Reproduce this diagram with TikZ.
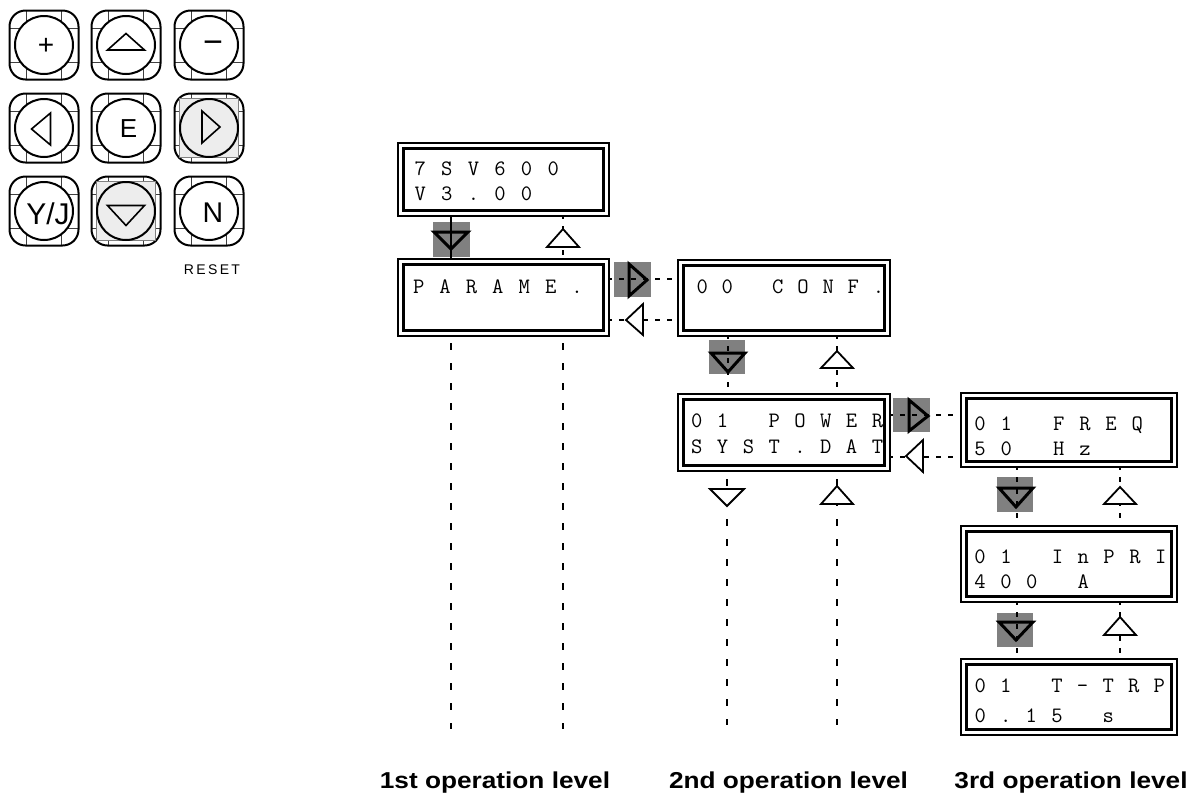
\documentclass[tikz,border=0pt]{standalone}
\usepackage{fontspec}
\usepackage{graphicx}
\setmainfont{Liberation Sans}
\usetikzlibrary{backgrounds}

\makeatletter
\newcommand\dstr[2]{\def\dpitch{#1}\dstr@#2\@nil}
\def\dstr@#1{\ifx#1\@nil\else\hbox to \dpitch pt{\hss\ifx#1*\else#1\fi\hss}\expandafter\dstr@\fi}
\makeatother

\tikzset{
  disp/.style={draw, line width=2.3pt, double=white, double distance=3pt, fill=white, inner sep=0pt},
  dtext/.style={anchor=base west, inner sep=0pt, font=\fontsize{22}{22}\selectfont\ttfamily},
  conn/.style={line width=2.4pt, dash pattern=on 5pt off 7pt},
  longconn/.style={line width=2.6pt, dash pattern=on 7pt off 13pt},
  solidconn/.style={line width=2.6pt},
  actsq/.style={fill=black!50, draw=none},
  acttri/.style={draw, line width=3pt, line join=miter},
  opentri/.style={draw, fill=white, line width=1.8pt, line join=miter},
  lvl/.style={font=\fontsize{23}{23}\selectfont\bfseries, anchor=base, inner sep=0pt},
  keytxt/.style={inner sep=0pt},
  keygrid/.style={line width=0.9pt, black!75},
  keyframe/.style={line width=2pt, rounded corners=16pt},
  keycirc/.style={line width=2pt, fill=white},
  keyshade/.style={fill=black!7, draw=black!50, line width=0.8pt},
  keytri/.style={line width=1.6pt, line join=miter},
}

\newcommand\kpkey[2]{%
  \draw[keygrid] (#1-17.5,#2-34.5) -- (#1-17.5,#2+34.5) (#1+17.5,#2-34.5) -- (#1+17.5,#2+34.5)
                 (#1-34.5,#2-16.5) -- (#1+34.5,#2-16.5) (#1-34.5,#2+17.5) -- (#1+34.5,#2+17.5);
  \draw[keyframe] (#1-34.5,#2-34.5) rectangle (#1+34.5,#2+34.5);
}

\begin{document}
\begin{tikzpicture}[x=1pt,y=-1pt]
\useasboundingbox (0,0) rectangle (1199,796);

% ---------------- keypad ----------------
\kpkey{44}{45}\kpkey{126}{45}\kpkey{209}{45}
\kpkey{44}{128}\kpkey{126}{128}\kpkey{209}{128}
\kpkey{44}{211}\kpkey{126}{211}\kpkey{209}{211}
\draw[keyshade] (179.5,98.5) rectangle (238.5,157.5);
\draw[keyshade] (96.5,181.5) rectangle (155.5,240.5);
\foreach \x/\y in {44/45,126/45,209/45,44/128,126/128,44/211,209/211}
  \draw[keycirc] (\x,\y) circle[radius=29pt];
\draw[keycirc, fill=black!7] (209,128) circle[radius=29pt];
\draw[keycirc, fill=black!7] (126,211) circle[radius=29pt];

\node[keytxt, font=\fontsize{28}{28}\selectfont] (kplus) at (46,46.5) {+};
\draw[keytri] (126,33.5) -- (144.5,50) -- (107.5,50) -- cycle;
\node[keytxt, font=\fontsize{34}{34}\selectfont] (kminus) at (213,47.5) {−};
\draw[keytri] (31.5,129) -- (50.5,113) -- (50.5,145) -- cycle;
\node[keytxt, anchor=base, font=\fontsize{26}{26}\selectfont] (ke) at (128.5,137.5) {E};
\draw[keytri] (220,127) -- (202,111) -- (202,143) -- cycle;
\node[keytxt, anchor=base, font=\fontsize{30}{30}\selectfont] (kyj) at (48,224.5) {Y/J};
\draw[keytri] (126,225.5) -- (107.5,205.5) -- (144.5,205.5) -- cycle;
\node[keytxt, anchor=base, font=\fontsize{28.5}{28.5}\selectfont] (kn) at (213,222.8) {N};
\node[keytxt, font=\fontsize{14}{14}\selectfont] (reset) at (212,270) {R\,E\,S\,E\,T};

% ---------------- displays ----------------
\node[disp, minimum width=205.4pt, minimum height=67.4pt] (d1) at (503.5,179.5) {};
\node[disp, minimum width=205.4pt, minimum height=71.4pt] (d2) at (503.5,297.5) {};
\node[disp, minimum width=206.4pt, minimum height=70.4pt] (d3) at (784,298) {};
\node[disp, minimum width=206.4pt, minimum height=71.4pt] (d4) at (784,432.5) {};
\node[disp, minimum width=210.4pt, minimum height=68.4pt] (d5) at (1069,430) {};
\node[disp, minimum width=210.4pt, minimum height=70.4pt] (d6) at (1069,564) {};
\node[disp, minimum width=210.4pt, minimum height=70.4pt] (d7) at (1069,697) {};

\node[dtext] (t1a) at (413.4,175) {\dstr{13.3}{7*S*V*6*0*0}};
\node[dtext] (t1b) at (413.4,200) {\dstr{13.3}{V*3*.*0*0}};
\node[dtext] (t2a) at (411.9,293) {\dstr{13.2}{P*A*R*A*M*E*.}};
\node[dtext] (t3a) at (695.7,293) {\dstr{12.6}{0*0***C*O*N*F*.}};
\node[dtext] (t4a) at (690.2,427) {\dstr{12.9}{0*1***P*O*W*E*R}};
\node[dtext] (t4b) at (690.2,453) {\dstr{12.9}{S*Y*S*T*.*D*A*T}};
\node[dtext] (t5a) at (973.4,430) {\dstr{13.1}{0*1***F*R*E*Q}};
\node[dtext] (t5b) at (973.4,455) {\dstr{13.1}{5*0***H*z}};
\node[dtext] (t6a) at (973.5,563) {\dstr{12.9}{0*1***I*n*P*R*I}};
\node[dtext] (t6b) at (973.5,588) {\dstr{12.9}{4*0*0***A}};
\node[dtext] (t7a) at (973.6,692) {\dstr{12.8}{0*1***T*-*T*R*P}};
\node[dtext] (t7b) at (973.6,722) {\dstr{12.8}{0*.*1*5***s}};

% column / row helpers
\coordinate (cA) at (451,0);
\coordinate (cB) at (563,0);
\coordinate (cC) at (728,0);
\coordinate (cD) at (837,0);
\coordinate (cE) at (1017,0);
\coordinate (cF) at (1120,0);
\coordinate (rA) at (0,279);
\coordinate (rB) at (0,320);
\coordinate (rC) at (0,415);
\coordinate (rD) at (0,457);
\coordinate (eA) at (451,729);
\coordinate (eB) at (563,729);
\coordinate (eC) at (727,725);
\coordinate (eD) at (837,725);

% ---------------- connectors ----------------
\begin{scope}[on background layer]
  % active squares
  \fill[actsq] (433,222) rectangle (470,257);
  \fill[actsq] (614,262) rectangle (651,297);
  \fill[actsq] (709,340) rectangle (745,374);
  \fill[actsq] (893,398) rectangle (930,432);
  \fill[actsq] (997,477) rectangle (1033,512);
  \fill[actsq] (997,613) rectangle (1033,647);

  % level 1 -> 2
  \draw[solidconn] (d1.south -| cA) -- (d2.north -| cA);
  \draw[conn] (d1.south -| cB) -- (d2.north -| cB);
  \draw[longconn, dash phase=11.2pt] (d2.south -| cA) -- (eA);
  \draw[longconn, dash phase=11.2pt] (d2.south -| cB) -- (eB);
  % level 1 <-> 2 horizontal
  \draw[conn] (d2.east |- rA) -- (d3.west |- rA);
  \draw[conn] (d2.east |- rB) -- (d3.west |- rB);
  % 00 CONF -> 01 POWER
  \draw[conn] (d3.south -| cC) -- (d4.north -| cC);
  \draw[conn] (d3.south -| cD) -- (d4.north -| cD);
  \draw[longconn, dash phase=10.2pt] (d4.south -| eC) -- (eC);
  \draw[longconn, dash phase=10.2pt] (d4.south -| eD) -- (eD);
  % level 2 <-> 3 horizontal
  \draw[conn] (d4.east |- rC) -- (d5.west |- rC);
  \draw[conn] (d4.east |- rD) -- (d5.west |- rD);
  % level 3 vertical
  \draw[conn] (d5.south -| cE) -- (d6.north -| cE);
  \draw[conn] (d5.south -| cF) -- (d6.north -| cF);
  \draw[conn] (d6.south -| cE) -- (d7.north -| cE);
  \draw[conn] (d6.south -| cF) -- (d7.north -| cF);

  % active triangles
  \draw[acttri] (434,232) -- (468,232) -- (451,249) -- cycle;
  \draw[acttri] (629,264) -- (629,296) -- (647,280) -- cycle;
  \draw[acttri] (711,353) -- (745,353) -- (728,372) -- cycle;
  \draw[acttri] (909,400) -- (909,431) -- (928,416) -- cycle;
  \draw[acttri] (999,488) -- (1033,488) -- (1016,507) -- cycle;
  \draw[acttri] (999,622) -- (1033,622) -- (1016,640) -- cycle;

  % open triangles
  \draw[opentri] (563,229) -- (579,247) -- (547,247) -- cycle;
  \draw[opentri] (626,320) -- (643,304) -- (643,335) -- cycle;
  \draw[opentri] (837,351) -- (853,368) -- (821,368) -- cycle;
  \draw[opentri] (727,506) -- (710,489) -- (744,489) -- cycle;
  \draw[opentri] (837,486) -- (853,504) -- (821,504) -- cycle;
  \draw[opentri] (906,456) -- (923,440) -- (923,472) -- cycle;
  \draw[opentri] (1120,487) -- (1136,504) -- (1104,504) -- cycle;
  \draw[opentri] (1120,617) -- (1136,635) -- (1104,635) -- cycle;
\end{scope}

% ---------------- level labels ----------------
\node[lvl] (l1) at (495,788) {\scalebox{1.14}[1]{1st operation level}};
\node[lvl] (l2) at (788.5,788) {\scalebox{1.14}[1]{2nd operation level}};
\node[lvl] (l3) at (1071,788) {\scalebox{1.14}[1]{3rd operation level}};
\end{tikzpicture}
\end{document}
